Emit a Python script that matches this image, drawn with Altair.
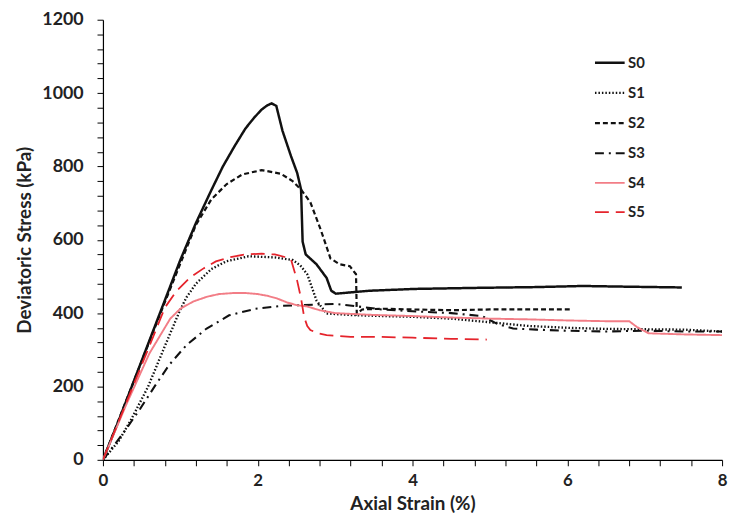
import altair as alt
import pandas as pd

series_names = ["S0", "S1", "S2", "S3", "S4", "S5"]

s0_x = [0, 0.2, 0.4, 0.6, 0.8, 1.0, 1.2, 1.4, 1.55, 1.7, 1.84, 1.95, 2.05, 2.12, 2.18, 2.24, 2.32, 2.43, 2.51, 2.56, 2.58, 2.62, 2.76, 2.89, 2.95, 3.01, 3.44, 4.03, 4.87, 5.6, 6.2, 6.8, 7.48]
s0_y = [0, 105, 215, 325, 435, 545, 645, 735, 800, 855, 903, 932, 955, 966, 972, 965, 897, 828, 782, 737, 595, 560, 533, 496, 461, 453, 461, 466, 469, 471, 474, 472, 470]

s1_x = [0, 0.2, 0.37, 0.58, 0.8, 1.0, 1.08, 1.2, 1.4, 1.59, 1.88, 2.22, 2.45, 2.55, 2.64, 2.7, 2.76, 2.89, 3.2, 3.6, 4.0, 4.5, 5.0, 5.5, 6.0, 6.5, 7.0, 7.5, 8.0]
s1_y = [0, 50, 112, 198, 310, 410, 443, 480, 520, 541, 555, 552, 545, 530, 506, 470, 434, 399, 395, 392, 390, 385, 375, 365, 360, 357, 356, 355, 350]

s2_x = [0, 0.4, 0.8, 1.0, 1.2, 1.4, 1.6, 1.8, 2.05, 2.3, 2.45, 2.56, 2.68, 2.81, 2.94, 3.06, 3.19, 3.27, 3.28, 3.35, 3.6, 4.0, 4.5, 5.0, 5.5, 6.04]
s2_y = [0, 215, 430, 535, 640, 710, 752, 778, 790, 780, 760, 737, 702, 630, 549, 533, 528, 506, 398, 410, 412, 410, 408, 410, 410, 410]

s3_x = [0, 0.26, 0.48, 0.67, 0.86, 1.08, 1.34, 1.63, 1.97, 2.31, 2.6, 3.0, 3.3, 3.6, 4.0, 4.5, 4.9, 5.1, 5.3, 5.6, 6.0, 6.5, 7.0, 7.5, 8.0]
s3_y = [0, 72, 139, 201, 260, 313, 358, 394, 412, 420, 422, 425, 418, 410, 405, 400, 392, 370, 358, 355, 352, 350, 352, 350, 350]

s4_x = [0, 0.3, 0.6, 0.87, 1.0, 1.17, 1.35, 1.5, 1.7, 1.84, 2.0, 2.13, 2.25, 2.38, 2.5, 2.64, 2.8, 3.0, 3.5, 4.0, 4.5, 5.0, 5.5, 6.0, 6.5, 6.8, 6.9, 7.05, 7.5, 8.0]
s4_y = [0, 150, 290, 385, 412, 432, 445, 452, 455, 455, 452, 447, 440, 429, 422, 418, 408, 400, 395, 392, 388, 385, 383, 380, 378, 378, 362, 345, 342, 340]

s5_x = [0, 0.3, 0.6, 0.8, 0.95, 1.12, 1.3, 1.46, 1.65, 1.84, 2.05, 2.22, 2.35, 2.43, 2.51, 2.56, 2.6, 2.64, 2.68, 2.78, 2.89, 3.2, 3.6, 4.0, 4.5, 4.96]
s5_y = [0, 155, 310, 415, 460, 496, 522, 541, 553, 560, 562, 560, 553, 546, 488, 440, 389, 365, 354, 345, 340, 335, 335, 333, 330, 328]

x_ticks = [0, 0.4, 0.8, 1.2, 1.6, 2, 2.4, 2.8, 3.2, 3.6, 4, 4.4, 4.8, 5.2, 5.6, 6, 6.4, 6.8, 7.2, 7.6, 8]
y_ticks = [0, 40, 80, 120, 160, 200, 240, 280, 320, 360, 400, 440, 480, 520, 560, 600, 640, 680, 720, 760,
           800, 840, 880, 920, 960, 1000, 1040, 1080, 1120, 1160, 1200]

line_colors = ["#111111", "#111111", "#111111", "#111111", "#f27d86", "#e5242c"]
line_dashes = [[1, 0], [1.5, 2], [5, 3], [9, 5, 2, 5], [1, 0], [14, 7]]
line_widths = [2.5, 1.8, 2.3, 2.3, 2.3, 2.3]

rows = []
for name, xs, ys in zip(series_names, [s0_x, s1_x, s2_x, s3_x, s4_x, s5_x],
                        [s0_y, s1_y, s2_y, s3_y, s4_y, s5_y]):
    for i, (xv, yv) in enumerate(zip(xs, ys)):
        rows.append({"series": name, "strain": xv, "stress": yv, "order": i})
df = pd.DataFrame(rows)

FONT = "Lato"

legend = alt.Legend(
    title=None, orient="none", legendX=496, legendY=27,
    symbolType="stroke", symbolSize=900, labelFont=FONT, labelFontSize=15,
    labelFontWeight="bold", labelColor="#222222", labelOffset=2, rowPadding=5.5,
    padding=0,
)

chart = alt.Chart(df).mark_line(clip=True, strokeCap="butt").encode(
    x=alt.X("strain:Q", scale=alt.Scale(domain=[0, 8], nice=False),
            axis=alt.Axis(values=x_ticks, title="Axial Strain (%)",
                          labelExpr="abs(datum.value - round(datum.value / 2) * 2) < 0.01 ? format(datum.value, 'd') : ''",
                          labelPadding=7, labelFontSize=17, titlePadding=6)),
    y=alt.Y("stress:Q", scale=alt.Scale(domain=[0, 1200], nice=False),
            axis=alt.Axis(values=y_ticks, title="Deviatoric Stress (kPa)",
                          labelExpr="abs(datum.value - round(datum.value / 200) * 200) < 0.01 ? format(datum.value, 'd') : ''",
                          labelPadding=14, titlePadding=7)),
    color=alt.Color("series:N", scale=alt.Scale(domain=series_names, range=line_colors), legend=legend),
    strokeDash=alt.StrokeDash("series:N", scale=alt.Scale(domain=series_names, range=line_dashes), legend=legend),
    strokeWidth=alt.StrokeWidth("series:N", scale=alt.Scale(domain=series_names, range=line_widths), legend=legend),
    order="order:Q",
).properties(
    width=626, height=445,
    autosize=alt.AutoSizeParams(type="none"),
    padding={"left": 96, "top": 9, "right": 7, "bottom": 59},
).configure_view(stroke=None).configure_axis(
    grid=False, domainColor="#000000", domainWidth=1.2, tickColor="#000000", tickSize=6, tickWidth=1,
    labelFont=FONT, labelFontSize=18, labelFontWeight="bold", labelColor="#222222",
    titleFont=FONT, titleFontSize=19, titleFontWeight="bold", titleColor="#222222",
    labelFlush=False, labelOverlap=False,
)

chart.save("out.html", embed_options={"renderer": "svg", "actions": False})
